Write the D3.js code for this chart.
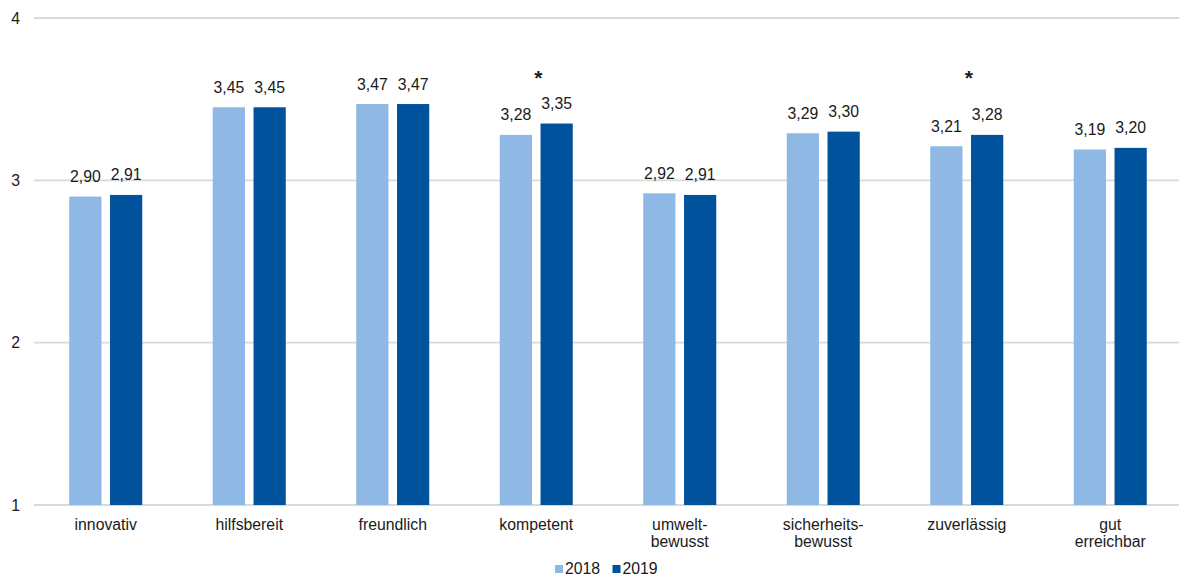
<!DOCTYPE html>
<html>
<head>
<meta charset="utf-8">
<script src="https://cdn.jsdelivr.net/npm/d3@7"></script>
<style>
  html, body { margin: 0; padding: 0; background: #fff; }
  svg { display: block; font-family: "Liberation Sans", Arial, sans-serif; }
</style>
</head>
<body>
<svg id="chart" width="1179" height="577"></svg>
<script>
// Kategorien (Zeilenumbruch mit "\n")
const categories = ["innovativ", "hilfsbereit", "freundlich", "kompetent",
  "umwelt-\nbewusst", "sicherheits-\nbewusst", "zuverlässig", "gut\nerreichbar"];
const years = ["2018", "2019"];
const values2018 = [2.90, 3.45, 3.47, 3.28, 2.92, 3.29, 3.21, 3.19];
const values2019 = [2.91, 3.45, 3.47, 3.35, 2.91, 3.30, 3.28, 3.20];
// signifikante Veränderungen 2018 -> 2019
const significant = ["kompetent", "zuverlässig"];
const yTicks = [1, 2, 3, 4];

const colors = { "2018": "#8FB9E4", "2019": "#00529D" };
const textColor = "#1a1a1a";
const fontSize = "15.8px";

const svg = d3.select("#chart");

const x0 = d3.scaleBand().domain(categories).range([34, 1182]).padding(0);
const x1 = d3.scaleBand().domain(years).range([0, 73]).paddingInner(0.21);
const groupOffset = (x0.bandwidth() - 73) / 2;
const y = d3.scaleLinear().domain([1, 4]).range([505, 18]);

// Gitterlinien
svg.append("g")
  .selectAll("line")
  .data(yTicks)
  .join("line")
  .attr("x1", 34).attr("x2", 1179)
  .attr("y1", d => y(d)).attr("y2", d => y(d))
  .attr("stroke", "#D9D9D9").attr("stroke-width", 1.8);

// Y-Achse
svg.append("g")
  .selectAll("text")
  .data(yTicks)
  .join("text")
  .attr("x", 20).attr("y", d => y(d) + 5.5)
  .attr("text-anchor", "end")
  .attr("font-size", fontSize).attr("fill", textColor)
  .text(d => d);

const rows = categories.map((c, i) => ({
  cat: c,
  bars: [
    { year: "2018", value: values2018[i] },
    { year: "2019", value: values2019[i] }
  ]
}));

const fmt = v => d3.format(".2f")(v).replace(".", ",");

const groups = svg.append("g")
  .selectAll("g")
  .data(rows)
  .join("g")
  .attr("transform", d => `translate(${x0(d.cat) + groupOffset},0)`);

groups.selectAll("rect")
  .data(d => d.bars)
  .join("rect")
  .attr("x", d => x1(d.year))
  .attr("width", x1.bandwidth())
  .attr("y", d => y(d.value))
  .attr("height", d => y(1) - y(d.value))
  .attr("fill", d => colors[d.year]);

groups.selectAll("text.val")
  .data(d => d.bars)
  .join("text")
  .attr("class", "val")
  .attr("x", d => x1(d.year) + x1.bandwidth() / 2)
  .attr("y", d => y(d.value) - 14.5)
  .attr("text-anchor", "middle")
  .attr("font-size", fontSize).attr("fill", textColor)
  .text(d => fmt(d.value));

// Signifikanz-Sternchen
svg.append("g")
  .selectAll("text")
  .data(significant)
  .join("text")
  .attr("x", d => x0(d) + x0.bandwidth() / 2 + 2)
  .attr("y", y(3.65) + 10)
  .attr("text-anchor", "middle")
  .attr("font-size", "21px").attr("font-weight", "bold").attr("fill", textColor)
  .text("*");

// Kategorienbeschriftung
const catLabels = svg.append("g")
  .selectAll("text")
  .data(categories)
  .join("text")
  .attr("x", d => x0(d) + x0.bandwidth() / 2)
  .attr("y", 530)
  .attr("text-anchor", "middle")
  .attr("font-size", fontSize).attr("fill", textColor);

catLabels.selectAll("tspan")
  .data(d => d.split("\n"))
  .join("tspan")
  .attr("x", function() { return d3.select(this.parentNode).attr("x"); })
  .attr("dy", (d, i) => i === 0 ? 0 : 17)
  .text(d => d);

// Legende
const legend = svg.append("g")
  .selectAll("g")
  .data(years)
  .join("g")
  .attr("transform", (d, i) => `translate(${555 + i * 57.5},0)`);

legend.append("rect")
  .attr("x", 0).attr("y", 565)
  .attr("width", 8).attr("height", 8)
  .attr("fill", d => colors[d]);

legend.append("text")
  .attr("x", 10).attr("y", 574)
  .attr("font-size", fontSize).attr("fill", textColor)
  .text(d => d);
</script>
</body>
</html>
